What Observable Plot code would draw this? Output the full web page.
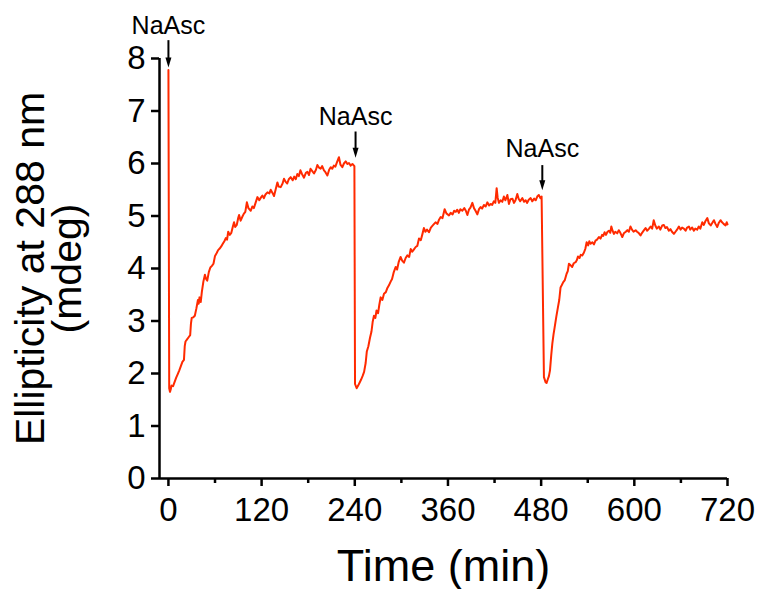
<!DOCTYPE html>
<html>
<head>
<meta charset="utf-8">
<script src="https://cdn.jsdelivr.net/npm/d3@7"></script>
<script src="https://cdn.jsdelivr.net/npm/@observablehq/plot@0.6"></script>
<style>
  html, body { margin: 0; padding: 0; background: white; }
</style>
</head>
<body>
<div id="chart"></div>
<script>
// Time (min)
const timeMin = [
  0, 1, 2, 3, 4, 6, 8, 10, 12, 14, 16, 18, 20, 21, 22, 24, 26, 28, 29, 30, 32, 34, 36, 38, 39, 40, 41.6, 43, 45, 47, 48.5, 50,
  52, 54, 56, 58, 60, 62, 64, 66, 68, 70, 72, 74, 75.5, 77, 79, 81, 83, 84.5, 86, 88, 90, 91, 93, 95, 97, 99, 101, 103, 106, 108,
  110, 112, 114.6, 117, 119, 121, 123, 125, 127.5, 130, 131.7, 134, 136, 138, 140.3, 142, 144.6, 147, 148.8, 151, 153, 155, 157.5,
  160, 162, 164, 166, 168, 170, 172, 174.6, 177, 179, 181, 183, 185, 187.5, 190, 191.8, 194, 196, 198, 200.3, 202, 204.7, 207,
  209, 211, 213, 215, 217, 219.6, 221.5, 224, 226, 228.3, 230.5, 232.5, 234.7, 237, 239.5,
  240.3, 242.4, 244, 246, 248, 250, 252, 254, 255.5, 257.5, 259.6, 261.5, 263, 264.7, 266.5, 268, 270, 271.5, 273.3, 275.5, 277.6,
  280, 282, 284, 286.2, 288, 290, 292.7, 294.5, 296.5, 299, 301, 303.3, 305.5, 307.7, 310, 312, 314, 316, 318.4, 320.5, 322.7, 325,
  327, 329, 331, 333, 335.5, 338, 341, 344, 346.5, 348.5, 350.6, 353, 355.7, 358, 361.3, 363.5, 366, 368, 370, 372, 374, 376, 378.5,
  381, 383, 385, 387, 389, 391.4, 393.5, 395.5, 397.8, 400, 402, 404, 406.3, 408.5, 410.7, 413, 415, 417, 419, 421, 422.7, 424,
  425.6, 427.8, 430, 432, 434, 436.5, 438.5, 440.5, 443, 445, 447, 449.3, 451, 453, 455.8, 458, 460, 462, 464, 466.5, 468.5, 471,
  473, 475, 477, 479, 480.6,
  483.6, 485.8, 487, 488.8, 490, 491.4, 493, 494.4, 496, 497.4, 499.5, 501.6, 503.3, 505, 506.5, 508.5, 510.5, 512.8, 514.3, 515.8,
  518, 520, 522, 524.4, 526, 527.4, 529.5, 531, 533, 535, 537, 538.6, 540.5, 542, 543.7, 546, 548, 550, 552, 554.4, 556.5, 558.5,
  560, 561.7, 563.5, 565.5, 567.3, 569, 570.4, 572, 573.7, 575.5, 578, 580, 582, 584.5, 586.5, 589, 591, 593, 595, 597, 599, 601.7,
  603.5, 605.5, 608, 610, 612, 614.5, 616.5, 619, 621, 623, 625, 627, 629, 631.6, 633.5, 636, 638, 640, 642, 644.5, 646.5, 648.5,
  651, 653, 655, 657.4, 659.5, 661.5, 663.8, 666, 668, 670.3, 672, 674.5, 676.7, 678.5, 681, 683, 685, 687.5, 689.5, 691.5, 694,
  696, 698.4, 700.5, 702.5, 704.5, 706.8, 708.5, 711, 713, 715, 717.5, 719, 720
];
// Ellipticity at 288 nm (mdeg)
const ellipticity = [
  7.78, 1.72, 1.65, 1.70, 1.77, 1.76, 1.84, 1.92, 1.99, 2.06, 2.14, 2.22, 2.26, 2.52, 2.61, 2.65, 2.69, 2.73, 2.95, 3.06, 3.07, 3.10, 3.24, 3.40, 3.33, 3.45, 3.36, 3.55, 3.75, 3.88, 3.80, 3.77,
  3.93, 4.02, 4.05, 4.09, 4.24, 4.29, 4.35, 4.38, 4.42, 4.47, 4.52, 4.58, 4.55, 4.70, 4.64, 4.68, 4.80, 4.88, 4.79, 4.83, 4.97, 5.02, 4.91, 4.98, 5.04, 5.08, 5.26, 5.15, 5.10, 5.18,
  5.15, 5.24, 5.36, 5.30, 5.35, 5.39, 5.34, 5.41, 5.45, 5.43, 5.50, 5.44, 5.38, 5.50, 5.64, 5.56, 5.55, 5.62, 5.71, 5.65, 5.62, 5.70, 5.74,
  5.68, 5.75, 5.70, 5.80, 5.76, 5.87, 5.80, 5.73, 5.82, 5.84, 5.78, 5.90, 5.86, 5.81, 5.88, 5.97, 5.92, 5.90, 5.95, 5.87, 5.84, 5.77, 5.88,
  5.93, 5.90, 5.96, 5.94, 6.02, 6.12, 5.98, 5.93, 6.00, 6.04, 5.99, 6.01, 5.96, 5.99, 5.95,
  1.80, 1.72, 1.76, 1.82, 1.88, 1.95, 2.03, 2.20, 2.42, 2.52, 2.68, 2.80, 2.98, 3.10, 3.06, 3.20, 3.15, 3.30, 3.45, 3.40, 3.52,
  3.55, 3.63, 3.68, 3.75, 3.80, 3.92, 4.03, 3.98, 4.12, 4.22, 4.15, 4.11, 4.20, 4.25, 4.22, 4.37, 4.32, 4.36, 4.41, 4.43, 4.57, 4.54,
  4.65, 4.77, 4.70, 4.74, 4.69, 4.78, 4.83, 4.88, 4.85, 4.93, 4.98, 4.96, 5.13, 5.05, 5.01, 5.06, 5.03, 5.10, 5.08, 5.12, 5.06, 5.13, 5.10,
  5.15, 5.10, 5.02, 5.12, 5.16, 5.25, 5.15, 5.10, 5.03, 5.13, 5.17, 5.14, 5.21, 5.18, 5.26, 5.20, 5.23, 5.21, 5.28, 5.25, 5.53, 5.35,
  5.25, 5.30, 5.27, 5.37, 5.30, 5.40, 5.23, 5.32, 5.33, 5.25, 5.30, 5.42, 5.33, 5.28, 5.34, 5.27, 5.30, 5.25, 5.31, 5.34, 5.28, 5.33,
  5.30, 5.37, 5.40, 5.34, 5.37,
  1.93, 1.83, 1.82, 1.90, 1.95, 2.06, 2.35, 2.57, 2.75, 2.88, 3.08, 3.26, 3.40, 3.64, 3.68, 3.74, 3.78, 3.90, 3.95, 4.09,
  4.06, 4.03, 4.10, 4.12, 4.16, 4.23, 4.20, 4.26, 4.25, 4.30, 4.38, 4.50, 4.44, 4.52, 4.47, 4.50, 4.46, 4.53, 4.55, 4.60, 4.57, 4.64,
  4.62, 4.69, 4.64, 4.70, 4.72, 4.68, 4.80, 4.72, 4.66, 4.70, 4.67, 4.73, 4.68, 4.60, 4.67, 4.70, 4.73, 4.70, 4.80, 4.74, 4.70, 4.73,
  4.70, 4.68, 4.63, 4.68, 4.72, 4.77, 4.72, 4.76, 4.80, 4.76, 4.92, 4.82, 4.76, 4.80, 4.74, 4.82, 4.83, 4.77, 4.79, 4.72, 4.75, 4.70,
  4.66, 4.70, 4.74, 4.80, 4.74, 4.78, 4.76, 4.72, 4.78, 4.80, 4.74, 4.78, 4.72, 4.76, 4.74, 4.80, 4.76, 4.88, 4.83, 4.90, 4.96,
  4.86, 4.82, 4.87, 4.92, 4.85, 4.79, 4.86, 4.92, 4.88, 4.85, 4.82, 4.88, 4.84
];

const xTicks = [0, 120, 240, 360, 480, 600, 720];
const xMinorTicks = [60, 180, 300, 420, 540, 660];
const yTicks = [0, 1, 2, 3, 4, 5, 6, 7, 8];

// Additions of sodium ascorbate (annotations)
const additionTime = [0, 241, 481.5];
const additionArrowTip = [7.83, 6.11, 5.49];
const additionArrowTail = [8.34, 6.60, 5.96];
const additionLabel = ["NaAsc", "NaAsc", "NaAsc"];

const xLabel = "Time (min)";
const yLabel = "Ellipticity at 288 nm\n(mdeg)";

const series = timeMin.map((t, i) => ({t, v: ellipticity[i]}));
const additions = additionTime.map((t, i) => ({t, tip: additionArrowTip[i], tail: additionArrowTail[i], label: additionLabel[i]}));

const arrowHead = {
  draw(context, size) {
    const r = Math.sqrt(size / Math.PI);
    context.moveTo(-r * 0.6, -r);
    context.lineTo(r * 0.6, -r);
    context.lineTo(0, r);
    context.closePath();
  }
};

const font = "'Liberation Sans', Arial, Helvetica, sans-serif";

const chart = Plot.plot({
  width: 759,
  height: 589,
  marginLeft: 159,
  marginRight: 32,
  marginTop: 58,
  marginBottom: 111,
  style: {fontFamily: font, color: "black", background: "white", overflow: "visible"},
  x: {domain: [-11.5, 720]},
  y: {domain: [0, 8]},
  marks: [
    Plot.axisX({ticks: xTicks, tickSize: 8, tickPadding: 11, fontSize: 33, strokeWidth: 2.5, label: null, tickFormat: d => String(d)}),
    Plot.axisX({ticks: xMinorTicks, tickSize: 5, strokeWidth: 2.5, text: null, label: null}),
    Plot.axisY({ticks: yTicks, tickSize: 8, tickPadding: 6, fontSize: 33, strokeWidth: 2.5, label: null, tickFormat: d => String(d)}),
    Plot.ruleY([0], {strokeWidth: 2.5}),
    Plot.ruleX([-11.5], {strokeWidth: 2.5}),
    Plot.line(series, {x: "t", y: "v", stroke: "#ff2a00", strokeWidth: 2}),
    Plot.ruleX(additions, {x: "t", y1: "tail", y2: "tip", strokeWidth: 2, insetBottom: 7}),
    Plot.dot(additions, {x: "t", y: "tip", symbol: arrowHead, r: 5, fill: "black", stroke: "none", dy: -5}),
    Plot.text(additions, {x: "t", y: "tip", text: "label", dy: -33, lineAnchor: "bottom", fontSize: 25}),
    Plot.text([xLabel], {frameAnchor: "bottom", textAnchor: "middle", lineAnchor: "bottom", dy: 102, fontSize: 45}),
    Plot.text([yLabel], {frameAnchor: "left", textAnchor: "middle", lineAnchor: "middle", rotate: -90, dx: -109, fontSize: 41, lineHeight: 0.9})
  ]
});

document.getElementById("chart").appendChild(chart);
</script>
</body>
</html>
